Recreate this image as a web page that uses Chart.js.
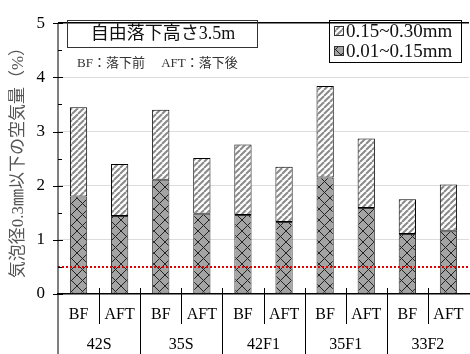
<!DOCTYPE html>
<html>
<head>
<meta charset="utf-8">
<script src="https://cdn.jsdelivr.net/npm/chart.js@4"></script>
<style>
  html, body { margin: 0; padding: 0; background: #fff; }
  #wrap { width: 470px; height: 354px; }
</style>
</head>
<body>
<div id="wrap"><canvas id="grafico"></canvas></div>
<script>
// データ
const barLabels = ["BF", "AFT", "BF", "AFT", "BF", "AFT", "BF", "AFT", "BF", "AFT"];
const groups = ["42S", "35S", "42F1", "35F1", "33F2"];
const fine = [1.80, 1.44, 2.11, 1.48, 1.46, 1.33, 2.15, 1.59, 1.11, 1.17];   // 0.01~0.15mm
const total = [3.45, 2.40, 3.40, 2.51, 2.76, 2.35, 3.84, 2.87, 1.75, 2.02];  // 合計
const coarse = total.map((t, i) => +(t - fine[i]).toFixed(2));              // 0.15~0.30mm
const refLine = 0.5;
const yTicks = [0, 1, 2, 3, 4, 5];

const serif = '"Liberation Serif", "Noto Sans CJK JP", serif';

// ハッチング
function makePattern(kind) {
    const c = document.createElement("canvas");
    const g = c.getContext("2d");
    if (kind === "stripe") {
        c.width = c.height = 6;
        g.fillStyle = "#fff";
        g.fillRect(0, 0, 6, 6);
        g.strokeStyle = "#8a8a8a";
        g.lineWidth = 2;
        for (let k = -6; k <= 12; k += 6) {
            g.beginPath();
            g.moveTo(k, 6);
            g.lineTo(k + 6, 0);
            g.stroke();
        }
    } else {
        c.width = c.height = 11;
        g.fillStyle = "#a4a4a4";
        g.fillRect(0, 0, 11, 11);
        g.strokeStyle = "#222";
        g.lineWidth = 1;
        g.beginPath();
        g.moveTo(0, 0); g.lineTo(11, 11);
        g.moveTo(11, 0); g.lineTo(0, 11);
        g.stroke();
    }
    return g.createPattern(c, "repeat");
}
const stripePat = makePattern("stripe");
const crossPat = makePattern("cross");

// 装飾（軸ラベル、凡例、注記）
const extras = {
    id: "extras",
    afterDraw(chart) {
        const ctx = chart.ctx;
        const x = chart.scales.x, y = chart.scales.y;
        const area = chart.chartArea;
        ctx.save();

        // 基準線
        const yr = y.getPixelForValue(refLine);
        ctx.strokeStyle = "#e00000";
        ctx.lineWidth = 2;
        ctx.setLineDash([2, 2]);
        ctx.beginPath();
        ctx.moveTo(area.left, yr);
        ctx.lineTo(area.right, yr);
        ctx.stroke();
        ctx.setLineDash([]);

        // y目盛り
        ctx.strokeStyle = "#000";
        ctx.lineWidth = 1;
        for (let v = 0; v <= 5; v += 0.5) {
            const py = Math.round(y.getPixelForValue(v)) + 0.5;
            ctx.beginPath();
            if (Number.isInteger(v)) { ctx.moveTo(area.left - 5, py); ctx.lineTo(area.left + 5, py); }
            else { ctx.moveTo(area.left, py); ctx.lineTo(area.left + 4, py); }
            ctx.stroke();
        }
        // 左軸
        ctx.beginPath();
        ctx.moveTo(area.left, area.top);
        ctx.lineTo(area.left, 354);
        ctx.stroke();

        // x区切り線
        const yb = area.bottom;
        for (let i = 0; i < barLabels.length - 1; i++) {
            const bx = Math.round((x.getPixelForValue(i) + x.getPixelForValue(i + 1)) / 2) + 0.5;
            ctx.beginPath();
            ctx.moveTo(bx, yb - 6);
            ctx.lineTo(bx, i % 2 === 0 ? yb + 30 : 354);
            ctx.stroke();
        }

        // xラベル
        ctx.fillStyle = "#000";
        ctx.font = "16px " + serif;
        ctx.textAlign = "center";
        ctx.textBaseline = "middle";
        barLabels.forEach((l, i) => ctx.fillText(l, x.getPixelForValue(i), yb + 21));
        groups.forEach((g, j) => {
            const gx = (x.getPixelForValue(2 * j) + x.getPixelForValue(2 * j + 1)) / 2;
            ctx.fillText(g, gx, yb + 51);
        });

        // タイトル枠
        ctx.strokeStyle = "#333";
        ctx.strokeRect(67.5, 20.5, 190, 27);
        ctx.font = "18px " + serif;
        ctx.fillStyle = "#111";
        ctx.fillText("自由落下高さ3.5m", 163, 34.5);
        ctx.font = "13px " + serif;
        ctx.textAlign = "left";
        ctx.fillStyle = "#333";
        ctx.fillText("BF：落下前　 AFT：落下後", 77, 64);

        // 凡例
        ctx.strokeStyle = "#000";
        ctx.strokeRect(329.5, 20.5, 132, 42);
        const items = [[stripePat, "0.15~0.30mm", 31], [crossPat, "0.01~0.15mm", 51]];
        ctx.font = "19px " + serif;
        items.forEach(([pat, txt, cy]) => {
            ctx.fillStyle = pat;
            ctx.fillRect(334, cy - 5, 10, 10);
            ctx.strokeStyle = "#333";
            ctx.strokeRect(334.5, cy - 4.5, 9, 9);
            ctx.fillStyle = "#111";
            ctx.fillText(txt, 346, cy + 1);
        });

        ctx.restore();
    }
};

new Chart(document.getElementById("grafico"), {
    type: "bar",
    data: {
        labels: barLabels,
        datasets: [{
            label: "0.01~0.15mm",
            data: fine,
            backgroundColor: crossPat,
            borderColor: "#333",
            borderWidth: 1,
            borderSkipped: false
        }, {
            label: "0.15~0.30mm",
            data: coarse,
            backgroundColor: stripePat,
            borderColor: "#000",
            borderWidth: 1,
            borderSkipped: false
        }]
    },
    options: {
        responsive: true,
        maintainAspectRatio: false,
        animation: false,
        layout: { padding: { top: 14, right: 1, bottom: 0, left: 0 } },
        datasets: { bar: { categoryPercentage: 1, barPercentage: 0.42 } },
        plugins: { legend: { display: false }, tooltip: { enabled: false } },
        scales: {
            x: {
                stacked: true,
                grid: { display: false },
                border: { color: "#000", width: 1.5 },
                ticks: { display: false },
                afterFit: s => { s.height = 60; }
            },
            y: {
                stacked: true,
                min: 0,
                max: 5,
                afterBuildTicks: s => { s.ticks = yTicks.map(v => ({ value: v })); },
                grid: {
                    drawTicks: false,
                    color: c => (c.tick.value === 5 ? "#000" : c.tick.value === 0 ? "rgba(0,0,0,0)" : "#dcdcdc"),
                    lineWidth: c => (c.tick.value === 5 ? 1.5 : 1)
                },
                border: { display: false },
                ticks: { font: { family: serif, size: 17 }, color: "#000", padding: 13 },
                title: {
                    display: true,
                    text: "気泡径0.3㎜以下の空気量（%）",
                    font: { family: serif, size: 17 },
                    color: "#555",
                    padding: { top: 8, bottom: 0 }
                },
                afterFit: s => { s.width = 58; }
            }
        }
    },
    plugins: [extras]
});
</script>
</body>
</html>
